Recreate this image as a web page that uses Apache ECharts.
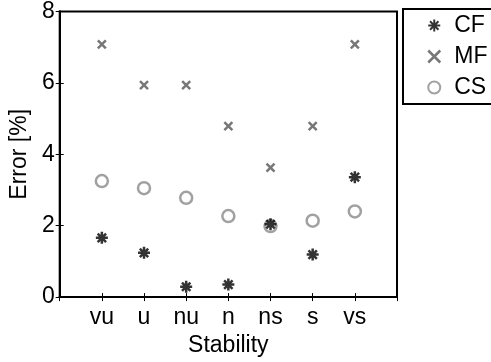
<!DOCTYPE html>
<html>
<head>
<meta charset="utf-8">
<script src="https://cdn.jsdelivr.net/npm/echarts@6/dist/echarts.min.js"></script>
<style>
  html, body { margin: 0; padding: 0; background: #fff; }
  #chart { width: 491px; height: 362px; }
</style>
</head>
<body>
<div id="chart"></div>
<script>
// stability classes and errors [%]
var categories = ['vu', 'u', 'nu', 'n', 'ns', 's', 'vs'];
var cfValues = [1.66, 1.24, 0.29, 0.35, 2.04, 1.19, 3.36];
var mfValues = [7.08, 5.94, 5.94, 4.79, 3.63, 4.79, 7.08];
var csValues = [3.25, 3.05, 2.78, 2.27, 1.99, 2.14, 2.40];
var yTicks = [0, 2, 4, 6, 8];

var FONT = 'Liberation Sans';
var FS = 23;

// category i sits at x = i + 1 on a 0..8 axis
function toPoints (vals) {
  return vals.map(function (v, i) { return [i + 1, v]; });
}

var starPath = 'path://M0,5L10,5M5,0L5,10M1.5,1.5L8.5,8.5M8.5,1.5L1.5,8.5';
var crossPath = 'path://M0,0L10,10M10,0L0,10';

var myChart = echarts.init(document.getElementById('chart'));

var tickStyle = { show: true, inside: true, length: 4, lineStyle: { color: '#000', width: 1 } };
var lineStyle = { show: true, lineStyle: { color: '#000', width: 2 } };

var option = {
  animation: false,
  backgroundColor: '#fff',
  grid: {
    left: 58, top: 10, right: 94, bottom: 60,
    show: true, borderColor: '#000', borderWidth: 2,
  },
  legend: {
    orient: 'vertical',
    left: 403,
    top: 9,
    padding: [5, 60, 5, 24],
    itemGap: 8,
    itemWidth: 12,
    itemHeight: 12,
    borderColor: '#000',
    borderWidth: 2,
    textStyle: { fontFamily: FONT, fontSize: FS, color: '#000', padding: [0, 0, 0, 9] },
    data: [
      { name: 'CF' },
      { name: 'MF', itemStyle: { borderWidth: 2.5 } },
      { name: 'CS' },
    ],
  },
  xAxis: [
    {
      type: 'value', min: 0, max: 8, interval: 1,
      name: 'Stability', nameLocation: 'middle', nameGap: 31,
      nameTextStyle: { fontFamily: FONT, fontSize: FS, color: '#000' },
      axisLine: lineStyle,
      axisTick: tickStyle,
      axisLabel: {
        fontFamily: FONT, fontSize: FS, color: '#000', margin: 9,
        formatter: function (v) { return categories[v - 1] || ''; },
      },
      splitLine: { show: false },
    },
    {
      type: 'value', min: 0, max: 8, interval: 1, position: 'top',
      axisLine: lineStyle,
      axisTick: tickStyle,
      axisLabel: { show: false },
      splitLine: { show: false },
    },
  ],
  yAxis: [
    {
      type: 'value', min: yTicks[0], max: yTicks[yTicks.length - 1], interval: 2,
      name: 'Error [%]', nameLocation: 'middle', nameGap: 21,
      nameTextStyle: { fontFamily: FONT, fontSize: FS, color: '#000' },
      axisLine: lineStyle,
      axisTick: tickStyle,
      axisLabel: { fontFamily: FONT, fontSize: FS, color: '#000', margin: 5 },
      splitLine: { show: false },
    },
    {
      type: 'value', min: yTicks[0], max: yTicks[yTicks.length - 1], interval: 2, position: 'right',
      axisLine: lineStyle,
      axisTick: tickStyle,
      axisLabel: { show: false },
      splitLine: { show: false },
    },
  ],
  series: [
    {
      name: 'MF', type: 'scatter', z: 3,
      symbol: crossPath, symbolSize: 8,
      itemStyle: { color: 'transparent', borderColor: '#555', borderWidth: 2.5 },
      data: toPoints(mfValues),
    },
    {
      name: 'CS', type: 'scatter', z: 2,
      symbol: 'circle', symbolSize: 12,
      itemStyle: { color: 'rgba(255,255,255,0)', borderColor: '#8a8a8a', borderWidth: 2.5 },
      data: toPoints(csValues),
    },
    {
      name: 'CF', type: 'scatter', z: 4,
      symbol: starPath, symbolSize: 12,
      itemStyle: { color: 'transparent', borderColor: '#000', borderWidth: 2.5 },
      data: toPoints(cfValues),
    },
  ],
};

myChart.setOption(option);
</script>
</body>
</html>
